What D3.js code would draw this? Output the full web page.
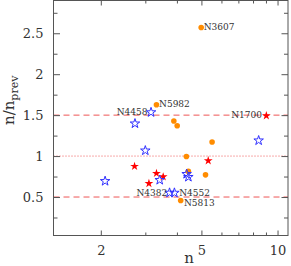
<!DOCTYPE html>
<html lang="en">
<head>
<meta charset="UTF-8">
<title>n / n_prev</title>
<style>
  body { margin: 0; background: #fff; }
  svg { display: block; }
  text { font-family: "DejaVu Serif", serif; fill: #333; }
</style>
</head>
<body>
<svg width="291" height="266"></svg>
<script src="https://d3js.org/d3.v7.min.js"></script>
<script>
// ---- data ----
var orangeN = [4.99, 3.32, 3.89, 4.01, 4.36, 4.44, 5.19, 5.51, 4.14];
var orangeR = [2.57, 1.627, 1.428, 1.37, 0.994, 0.813, 0.771, 1.171, 0.458];
var orangeName = ["N3607", "N5982", "", "", "", "", "", "", "N5813"];

var redN = [9.03, 5.32, 2.72, 3.10, 3.32, 3.53];
var redR = [1.493, 0.943, 0.875, 0.666, 0.789, 0.747];
var redName = ["N1700", "", "", "", "", ""];

var blueN = [3.16, 2.73, 3.00, 2.08, 3.42, 4.37, 4.44, 3.74, 3.91, 8.42];
var blueR = [1.534, 1.397, 1.067, 0.694, 0.707, 0.780, 0.744, 0.551, 0.551, 1.19];
var blueName = ["N4458", "", "", "", "", "", "", "N4382", "N4552", ""];

var xMajor = [2, 5, 10];
var xMinor = [3, 4, 6, 7, 8, 9];
var yMajor = [0.5, 1, 1.5, 2, 2.5];
var yMinor = [0.25, 0.75, 1.25, 1.75, 2.25, 2.75];
var refLines = [0.5, 1, 1.5];

// label placement: anchor and offset from the point
var labelPos = {
  N3607: ["start", 2.5, 2.5],
  N5982: ["start", 2.6, 2.4],
  N5813: ["start", 3.3, 5.2],
  N1700: ["end", -4.3, 2.6],
  N4458: ["end", -3.6, 3],
  N4382: ["end", -2.3, 3.3],
  N4552: ["start", 4.8, 2.8]
};

var svg = d3.select("svg");
var L = 53.5, R = 288, T = 0.5, B = 235.5;

var x = d3.scaleLog().domain([1.3, 11]).range([L, R]);
var y = d3.scaleLinear().domain([0.03, 2.9]).range([B, T]);

function zip(ns, rs, names) {
  return ns.map(function (n, i) { return { n: n, r: rs[i], name: names[i] }; });
}

// reference lines
svg.selectAll(".ref")
  .data(refLines).enter()
  .append("line")
  .attr("x1", L).attr("x2", R)
  .attr("y1", d => y(d)).attr("y2", d => y(d))
  .attr("stroke", "#ee5555")
  .attr("stroke-width", 1)
  .attr("stroke-dasharray", d => d === 1 ? "1,2" : "6,4");

// axes with inward ticks
function tickAxis(axis, vals, size, g, labels) {
  var a = axis.tickValues(vals).tickSize(-size).tickPadding(size + 6);
  if (!labels) a.tickFormat("");
  g.call(a);
  g.select(".domain").remove();
  g.selectAll("line").attr("stroke", "#555");
  g.selectAll("text").attr("font-size", 13).attr("fill", "#333")
    .style("font-family", '"DejaVu Serif", serif');
}

var gx = svg.append("g").attr("transform", "translate(0," + B + ")");
tickAxis(d3.axisBottom(x), xMajor, 5, gx, true);
gx.selectAll("text").attr("dy", "0.9em").attr("y", 8);
tickAxis(d3.axisBottom(x), xMinor, 3, svg.append("g").attr("transform", "translate(0," + B + ")"), false);
tickAxis(d3.axisTop(x), xMajor, 5, svg.append("g").attr("transform", "translate(0," + T + ")"), false);
tickAxis(d3.axisTop(x), xMinor, 3, svg.append("g").attr("transform", "translate(0," + T + ")"), false);

var gy = svg.append("g").attr("transform", "translate(" + L + ",0)");
tickAxis(d3.axisLeft(y).tickFormat(d3.format("")), yMajor, 6.5, gy, true);
gy.selectAll("text").attr("x", -10);
tickAxis(d3.axisLeft(y), yMinor, 4, svg.append("g").attr("transform", "translate(" + L + ",0)"), false);
tickAxis(d3.axisRight(y), yMajor, 6.5, svg.append("g").attr("transform", "translate(" + R + ",0)"), false);
tickAxis(d3.axisRight(y), yMinor, 4, svg.append("g").attr("transform", "translate(" + R + ",0)"), false);

// frame
svg.append("rect")
  .attr("x", L).attr("y", T)
  .attr("width", R - L).attr("height", B - T)
  .attr("fill", "none")
  .attr("stroke", "#555")
  .attr("stroke-width", 1);

// axis titles
svg.append("text")
  .attr("x", 189).attr("y", 263)
  .attr("text-anchor", "middle")
  .attr("font-size", 15)
  .text("n");

var yl = svg.append("text")
  .attr("transform", "translate(14,125) rotate(-90)")
  .attr("font-size", 15);
yl.append("tspan").text("n/n");
yl.append("tspan").attr("font-size", 11).attr("dy", 4).text("prev");

// points
var plot = svg.append("g");

plot.selectAll(".dot")
  .data(zip(orangeN, orangeR, orangeName)).enter()
  .append("circle")
  .attr("cx", d => x(d.n)).attr("cy", d => y(d.r))
  .attr("r", 2.8)
  .attr("fill", "#ff8c00");

var star = d3.symbol().type(d3.symbolStar);

plot.selectAll(".red")
  .data(zip(redN, redR, redName)).enter()
  .append("path")
  .attr("d", star.size(24)())
  .attr("transform", d => "translate(" + x(d.n) + "," + y(d.r) + ")")
  .attr("fill", "#ff0000");

plot.selectAll(".blue")
  .data(zip(blueN, blueR, blueName)).enter()
  .append("path")
  .attr("d", star.size(28)())
  .attr("transform", d => "translate(" + x(d.n) + "," + y(d.r) + ")")
  .attr("fill", "none")
  .attr("stroke", "#3030ff")
  .attr("stroke-width", 1);

// labels
var labelled = zip(orangeN, orangeR, orangeName)
  .concat(zip(redN, redR, redName))
  .concat(zip(blueN, blueR, blueName))
  .filter(d => d.name);

svg.selectAll(".lab")
  .data(labelled).enter()
  .append("text")
  .attr("x", d => x(d.n) + labelPos[d.name][1])
  .attr("y", d => y(d.r) + labelPos[d.name][2])
  .attr("text-anchor", d => labelPos[d.name][0])
  .attr("font-size", 9)
  .attr("fill", "#222")
  .text(d => d.name);
</script>
</body>
</html>
